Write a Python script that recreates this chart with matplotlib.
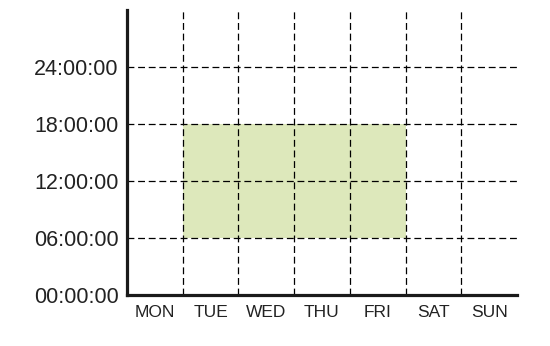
import numpy as np
import matplotlib
matplotlib.use('Agg')
import matplotlib.pyplot as plt

# dữ liệu: giờ mở cửa theo từng ngày (None = đóng cửa)
days = ['MON', 'TUE', 'WED', 'THU', 'FRI', 'SAT', 'SUN']
open_hour = [None, 6, 6, 6, 6, None, None]
close_hour = [None, 18, 18, 18, 18, None, None]
y_ticks = [0, 6, 12, 18, 24]
y_labels = ['00:00:00', '06:00:00', '12:00:00', '18:00:00', '24:00:00']

fig = plt.figure(figsize=(5.5, 3.46), dpi=100)
ax = fig.add_axes([0.2309, 0.1474, 0.7091, 0.8237])

idx = [i for i in range(len(days)) if open_hour[i] is not None]
ax.bar(idx,
       [close_hour[i] - open_hour[i] for i in idx],
       bottom=[open_hour[i] for i in idx],
       width=1, align='edge', color='#dde8bb', linewidth=0, zorder=1)

ax.set_xlim(0, len(days))
ax.set_ylim(0, 30)

ax.set_xticks(np.arange(len(days)) + 0.5)
ax.set_xticklabels(days, family='Liberation Sans', fontsize=12.5, color='#222222')
ax.set_xticks(np.arange(1, len(days)), minor=True)
ax.set_yticks(y_ticks)
ax.set_yticklabels(y_labels, family='Liberation Sans', fontsize=15.5, color='#222222')
ax.tick_params(which='both', length=0)
ax.tick_params(axis='x', pad=7)
ax.tick_params(axis='y', pad=6)

grid_style = dict(color='black', linewidth=0.9, linestyle=(0, (5.5, 3)))
ax.grid(which='minor', axis='x', **grid_style)
ax.grid(which='major', axis='y', **grid_style)
ax.grid(which='major', axis='x', visible=False)
ax.set_axisbelow(False)

for s in ['top', 'right']:
    ax.spines[s].set_visible(False)
for s in ['left', 'bottom']:
    ax.spines[s].set_linewidth(2.3)
    ax.spines[s].set_color('#1a1a1a')
    ax.spines[s].set_zorder(5)

fig.savefig('out.png', dpi=100)
